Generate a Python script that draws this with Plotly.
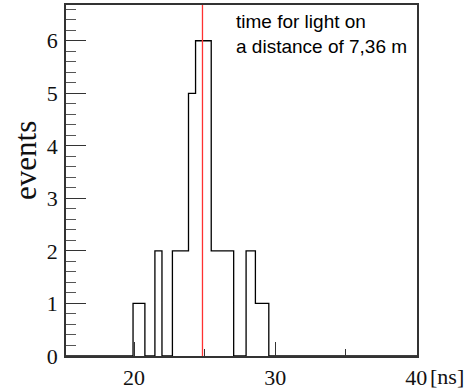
import plotly.graph_objects as go

# ---- data ----
bin_edges = [15.18, 19.93, 20.77, 21.48, 21.98, 22.72, 23.86, 24.36, 25.47, 27.06, 27.94, 28.60, 29.55, 40.05]
bin_counts = [0, 1, 0, 2, 0, 2, 5, 6, 2, 0, 2, 1, 0]
light_time = 24.85
x_range = [15.18, 40.05]
y_range = [0, 6.68]
x_tick_vals = [20, 30, 40]
x_tick_text = ["20", "30", "40"]
y_tick_vals = [0, 1, 2, 3, 4, 5, 6]
note_lines = ["time for light on", "a distance of 7,36 m"]

serif = "Liberation Serif, Times New Roman, serif"
sans = "Liberation Sans, Arial, sans-serif"

fig = go.Figure()
fig.add_trace(go.Scatter(
    x=bin_edges, y=bin_counts + [bin_counts[-1]],
    mode="lines", line=dict(shape="hv", color="black", width=1.3),
    hoverinfo="skip", showlegend=False,
))
fig.add_trace(go.Scatter(
    x=[light_time, light_time], y=y_range,
    mode="lines", line=dict(color="#ff3030", width=1.3),
    hoverinfo="skip", showlegend=False,
))

fig.update_layout(
    width=468, height=390,
    margin=dict(l=66, r=51, t=5, b=34, autoexpand=False),
    paper_bgcolor="white", plot_bgcolor="white",
    showlegend=False,
    xaxis=dict(
        range=x_range, showgrid=False, zeroline=False, automargin=False,
        showline=True, linecolor="#333333", linewidth=1.5, mirror=True,
        tickmode="array", tickvals=x_tick_vals, ticktext=x_tick_text,
        ticks="inside", ticklen=14, tickwidth=1, tickcolor="#333333",
        minor=dict(dtick=5, tick0=0, ticks="inside", ticklen=7, tickcolor="#333333", tickwidth=1),
        tickfont=dict(family=serif, size=22, color="#111111"),
        ticklabelstandoff=1,
    ),
    yaxis=dict(
        range=y_range, showgrid=False, zeroline=False, automargin=False,
        showline=True, linecolor="#333333", linewidth=1.5, mirror=True,
        tickmode="array", tickvals=y_tick_vals,
        ticks="inside", ticklen=20, tickwidth=1.2, tickcolor="#333333",
        minor=dict(dtick=0.2, tick0=0, ticks="inside", ticklen=10, tickcolor="#555555", tickwidth=1),
        tickfont=dict(family=serif, size=22, color="#111111"),
        ticklabelstandoff=2,
    ),
    annotations=[
        dict(text="events", xref="paper", yref="paper", x=(25 - 66) / 351, y=(356 - 161) / 351,
             xanchor="center", yanchor="middle", textangle=-90, showarrow=False,
             font=dict(family=serif, size=31, color="#111111")),
        dict(text="[ns]", xref="paper", yref="paper", x=(428 - 66) / 351, y=(356 - 376) / 351,
             xanchor="left", yanchor="middle", showarrow=False,
             font=dict(family=serif, size=22, color="#111111")),
        dict(text="<br>".join(note_lines), xref="paper", yref="paper",
             x=(234 - 66) / 351, y=(356 - 9) / 351, xanchor="left", yanchor="top",
             align="left", showarrow=False,
             font=dict(family=sans, size=19, color="black")),
    ],
)

fig.write_html("out.html", config={"displayModeBar": False},
               post_script="document.body.style.margin='0';document.body.style.overflow='hidden';")
